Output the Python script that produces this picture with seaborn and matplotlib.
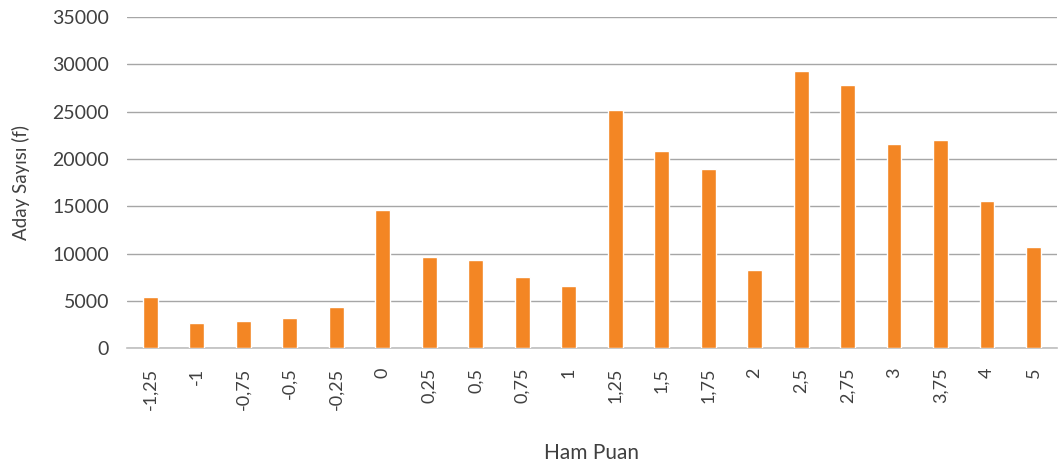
import pandas as pd
import matplotlib
matplotlib.use("Agg")
import matplotlib.pyplot as plt
import seaborn as sns

# Ham puan kategorileri ve aday sayıları
puanlar = ["-1,25", "-1", "-0,75", "-0,5", "-0,25", "0", "0,25", "0,5", "0,75", "1",
           "1,25", "1,5", "1,75", "2", "2,5", "2,75", "3", "3,75", "4", "5"]
aday_sayisi = [5450, 2700, 2850, 3150, 4400, 14600, 9650, 9350, 7500, 6600,
               25150, 20800, 18950, 8300, 29300, 27800, 21600, 22050, 15550, 10750]
y_ticks = [0, 5000, 10000, 15000, 20000, 25000, 30000, 35000]


def BarChart():
    df = pd.DataFrame({"Puan": puanlar, "Aday": aday_sayisi})
    sns.set_style("white")
    plt.rcParams["font.family"] = ["Lato", "DejaVu Sans"]

    fig = plt.figure(figsize=(10.61, 4.68), dpi=100)
    ax = fig.add_axes([0.1197, 0.2558, 0.8763, 0.708])

    sns.barplot(data=df, x="Puan", y="Aday", color="#F38624",
                saturation=1, width=0.32, ax=ax, zorder=3)

    ax.set_ylim(0, 35000)
    ax.set_yticks(y_ticks)
    ax.set_yticklabels([str(t) for t in y_ticks])
    ax.set_xlim(-0.5, len(puanlar) - 0.5)
    ax.grid(axis="y", color="#a6a6a6", linewidth=1, zorder=0)
    ax.grid(axis="x", visible=False)
    for side in ["top", "right", "left"]:
        ax.spines[side].set_visible(False)
    ax.spines["bottom"].set_color("#bfbfbf")
    ax.spines["bottom"].set_linewidth(1.2)

    ax.tick_params(axis="x", labelrotation=90, labelsize=13, colors="#404040",
                   length=0, pad=14)
    ax.tick_params(axis="y", labelsize=14, colors="#404040", length=0, pad=13)

    ax.set_xlabel("Ham Puan", fontsize=15, color="#404040", labelpad=24)
    ax.set_ylabel("Aday Sayısı (f)", fontsize=13.5, color="#404040", labelpad=16)

    plt.savefig("out.png", dpi=100)


BarChart()
